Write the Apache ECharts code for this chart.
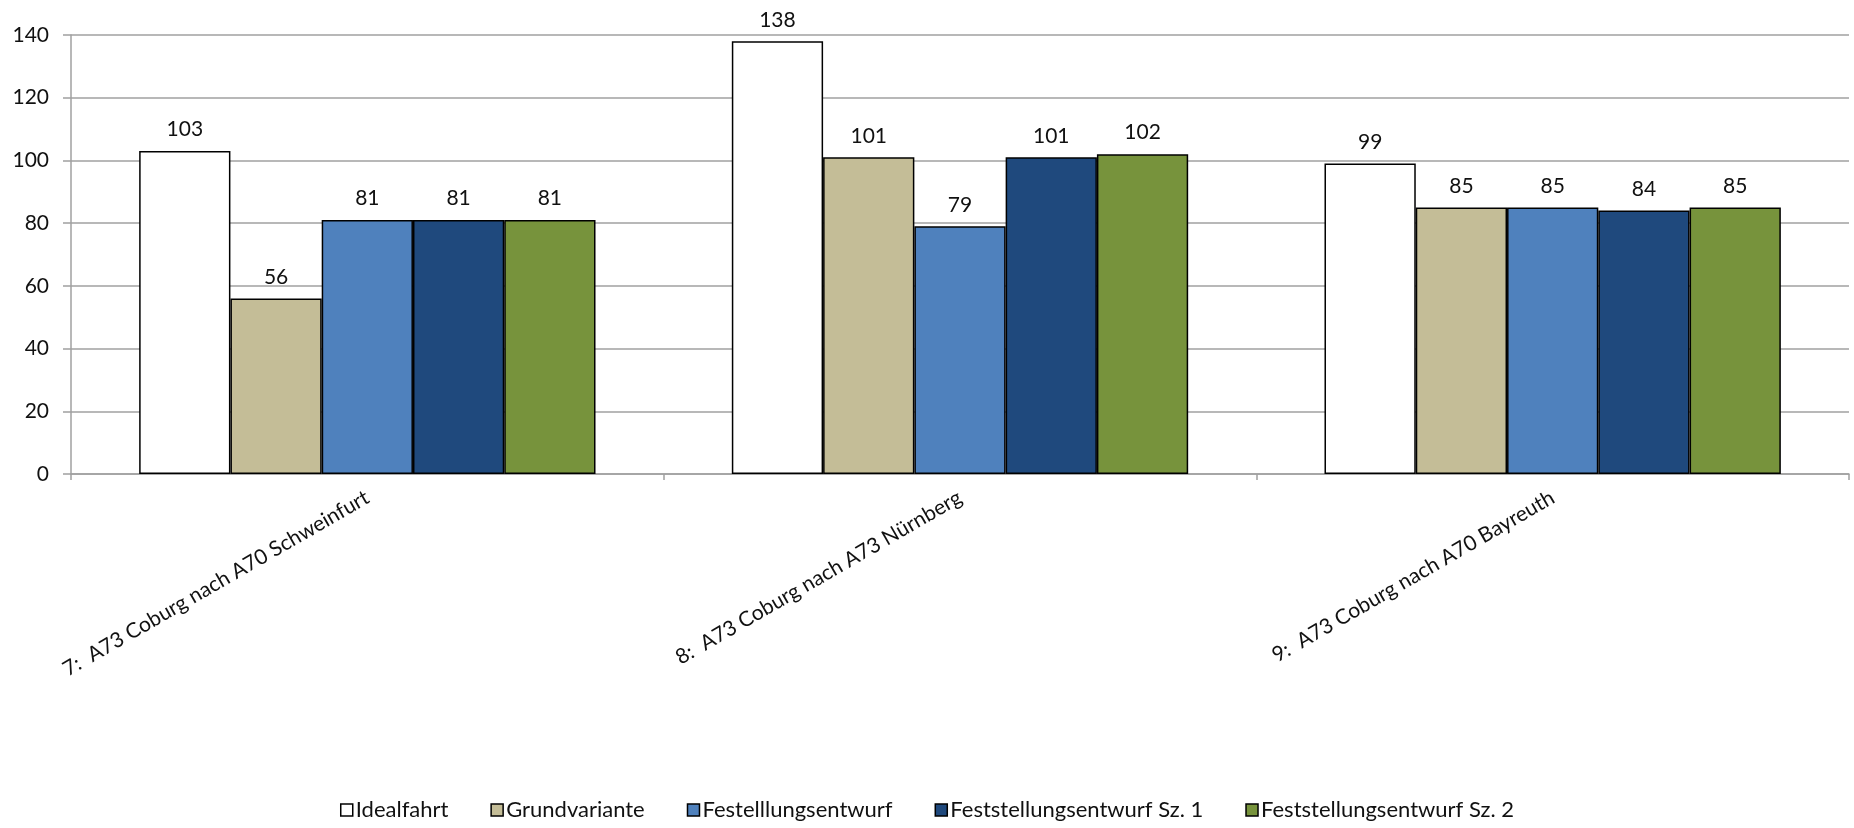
<!DOCTYPE html>
<html>
<head>
<meta charset="utf-8">
<script src="https://cdn.jsdelivr.net/npm/echarts@6/dist/echarts.min.js"></script>
<style>
  html, body { margin: 0; padding: 0; background: #ffffff; }
  #chart { width: 1854px; height: 828px; }
</style>
</head>
<body>
<div id="chart"></div>
<script>
// Routes (categories)
const categories = [
  '7:  A73 Coburg nach A70 Schweinfurt',
  '8:  A73 Coburg nach A73 Nürnberg',
  '9:  A73 Coburg nach A70 Bayreuth'
];

// Series names
const seriesNames = [
  'Idealfahrt',
  'Grundvariante',
  'Festelllungsentwurf',
  'Feststellungsentwurf Sz. 1',
  'Feststellungsentwurf Sz. 2'
];

// Values per series (one per route)
const idealfahrt = [103, 138, 99];
const grundvariante = [56, 101, 85];
const festelllungsentwurf = [81, 79, 85];
const feststellungSz1 = [81, 101, 84];
const feststellungSz2 = [81, 102, 85];

const seriesValues = [idealfahrt, grundvariante, festelllungsentwurf, feststellungSz1, feststellungSz2];
const seriesColors = ['#FFFFFF', '#C4BD97', '#4F81BD', '#1F497D', '#77933C'];

const FONT = 'Lato, "Open Sans", sans-serif';

const chart = echarts.init(document.getElementById('chart'), null, { renderer: 'canvas' });

const series = seriesNames.map((name, i) => ({
  name: name,
  type: 'bar',
  data: seriesValues[i],
  barGap: '0%',
  barCategoryGap: '23%',
  itemStyle: { color: seriesColors[i], borderColor: '#000000', borderWidth: 1.5 },
  label: {
    show: true,
    position: 'top',
    distance: 11,
    color: '#111111',
    fontFamily: FONT,
    fontSize: 21
  },
  emphasis: { disabled: true }
}));

chart.setOption({
  animation: false,
  backgroundColor: '#ffffff',
  grid: { left: 71, right: 5, top: 35, bottom: 354, containLabel: false },
  legend: {
    bottom: 2,
    left: 'center',
    data: seriesNames,
    icon: 'rect',
    itemWidth: 12,
    itemHeight: 12,
    itemGap: 42,
    itemStyle: { borderColor: '#000000', borderWidth: 1.5 },
    textStyle: { fontFamily: FONT, fontSize: 22, color: '#111111', padding: [0, 0, 0, -2] }
  },
  xAxis: {
    type: 'category',
    data: categories,
    axisLine: { lineStyle: { color: '#A0A0A0', width: 1.5 } },
    axisTick: { show: true, length: 6, lineStyle: { color: '#A0A0A0', width: 1.5 } },
    axisLabel: {
      rotate: 30,
      margin: 22,
      interval: 0,
      color: '#111111',
      fontFamily: FONT,
      fontSize: 21
    }
  },
  yAxis: {
    type: 'value',
    min: 0,
    max: 140,
    interval: 20,
    axisLine: { show: true, lineStyle: { color: '#A0A0A0', width: 1.5 } },
    axisTick: { show: true, length: 8, lineStyle: { color: '#A0A0A0', width: 1.5 } },
    axisLabel: { margin: 22, color: '#111111', fontFamily: FONT, fontSize: 21 },
    splitLine: { show: true, lineStyle: { color: '#A0A0A0', width: 1.5 } }
  },
  series: series
});
</script>
</body>
</html>
